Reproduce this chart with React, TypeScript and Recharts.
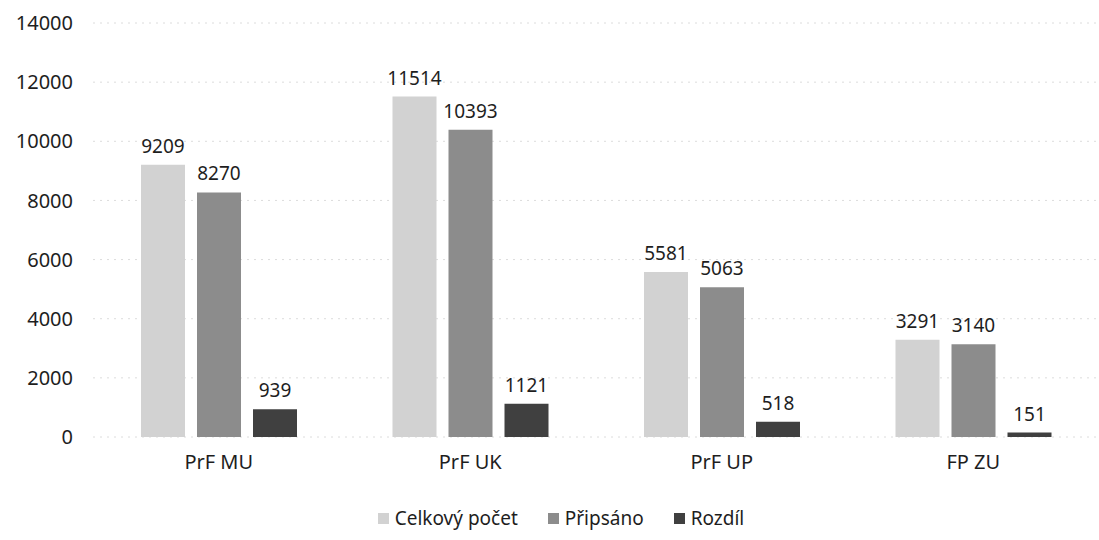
import { BarChart, Bar, XAxis, YAxis, CartesianGrid, Legend, LabelList } from 'recharts';

const categories = ['PrF MU', 'PrF UK', 'PrF UP', 'FP ZU'];
const celkovy = [9209, 11514, 5581, 3291];
const pripsano = [8270, 10393, 5063, 3140];
const rozdil = [939, 1121, 518, 151];
const yTicks = [0, 2000, 4000, 6000, 8000, 10000, 12000, 14000];

const data = categories.map((name, i) => ({
  name,
  celkovy: celkovy[i],
  pripsano: pripsano[i],
  rozdil: rozdil[i],
}));

const FONT = '"Noto Sans", "Open Sans", sans-serif';

const series = [
  { key: 'celkovy', label: 'Celkový počet', color: '#d2d2d2' },
  { key: 'pripsano', label: 'Připsáno', color: '#8c8c8c' },
  { key: 'rozdil', label: 'Rozdíl', color: '#404040' },
];

function LegendContent() {
  return (
    <div
      style={{
        display: 'flex',
        justifyContent: 'center',
        gap: 30,
        paddingTop: 18,
        paddingLeft: 10,
        fontFamily: FONT,
        fontSize: 19,
        color: '#1e1e1e',
      }}
    >
      {series.map((s) => (
        <div key={s.key} style={{ display: 'flex', alignItems: 'center', gap: 6 }}>
          <div style={{ width: 11, height: 11, background: s.color }} />
          {s.label}
        </div>
      ))}
    </div>
  );
}

export default function App() {
  return (
    <div style={{ position: 'absolute', left: 0, top: 0, width: 1099, height: 540, background: '#fff' }}>
      <BarChart
        width={1099}
        height={540}
        data={data}
        margin={{ top: 23, right: 0, bottom: 10, left: 13 }}
        barSize={44}
        barGap={12}
      >
        <CartesianGrid vertical={false} stroke="#dcdcdc" strokeDasharray="2 5" />
        <XAxis
          dataKey="name"
          axisLine={false}
          tickLine={false}
          height={50}
          tick={{ fill: '#1e1e1e', fontSize: 20, fontFamily: FONT }}
          dy={10}
        />
        <YAxis
          domain={[0, 14000]}
          ticks={yTicks}
          axisLine={false}
          tickLine={false}
          width={80}
          tick={{ fill: '#1e1e1e', fontSize: 20, fontFamily: FONT }}
          dx={-12}
        />
        <Legend verticalAlign="bottom" height={43} content={<LegendContent />} />
        {series.map((s) => (
          <Bar key={s.key} dataKey={s.key} fill={s.color} isAnimationActive={false}>
            <LabelList
              dataKey={s.key}
              position="top"
              offset={12}
              style={{ fill: '#1e1e1e', fontSize: 19, fontFamily: FONT }}
            />
          </Bar>
        ))}
      </BarChart>
    </div>
  );
}
